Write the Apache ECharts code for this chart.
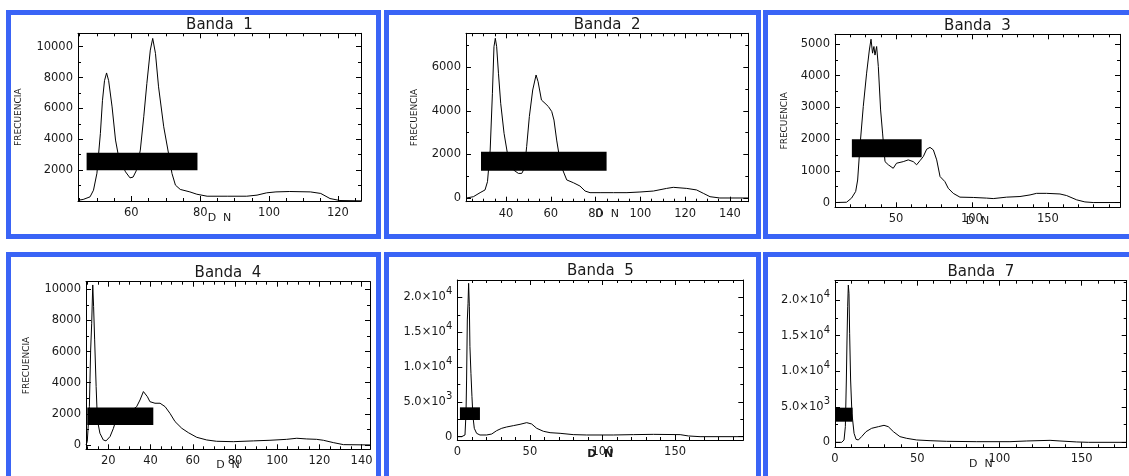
<!DOCTYPE html>
<html>
<head>
<meta charset="utf-8">
<script src="https://cdn.jsdelivr.net/npm/echarts@6/dist/echarts.min.js"></script>
<style>
  html, body { margin: 0; padding: 0; background: #fff; }
  #chart { width: 1129px; height: 476px; }
</style>
</head>
<body>
<div id="chart"></div>
<script>
// histogram values: DN and frequency
const band1DN = [44.5, 46, 48, 49, 50, 51, 51.6, 52.2, 52.8, 53.4, 54.4, 55.4, 56.3, 58.3, 59.6, 60.5, 61.4, 62.6, 63.6, 64.5, 65.5, 66.2, 67, 67.9, 69.4, 70.8, 71.8, 72.8, 74.2, 77, 79, 82, 88, 93.5, 96.5, 99.3, 102, 106, 112, 115, 117.7, 120.6, 126.7]
const band1Freq = [50, 100, 270, 700, 1800, 4380, 6500, 7800, 8300, 7800, 6100, 3950, 2860, 1890, 1500, 1550, 1950, 3300, 5460, 7620, 9780, 10540, 9570, 7400, 4810, 3080, 1780, 1030, 750, 590, 440, 310, 310, 310, 380, 530, 590, 615, 590, 490, 160, 30, 10]

const band2DN = [22.4, 25.4, 28.4, 30.6, 31.7, 32.9, 33.9, 34.6, 35.2, 35.8, 36.6, 37.6, 39.1, 40.6, 43.3, 45.5, 47, 48.2, 49.2, 50.4, 51.9, 53.4, 54.3, 55.8, 57.4, 58.9, 60.4, 61.4, 62.6, 63.8, 65.3, 67.1, 70.1, 73, 75.3, 77.5, 82, 88, 94, 99.8, 105.8, 111.7, 114.7, 120.7, 125.1, 128.1, 131.1, 135.5, 148.2]
const band2Freq = [0, 60, 245, 370, 750, 2200, 4810, 6950, 7335, 6950, 5730, 4350, 2970, 2050, 1290, 1130, 1130, 1360, 2360, 3740, 4960, 5650, 5340, 4500, 4350, 4200, 3970, 3580, 2660, 1900, 1290, 830, 700, 550, 320, 245, 245, 245, 245, 275, 320, 440, 490, 440, 370, 215, 60, 0, 0]

const band3DN = [9.9, 17.5, 20.8, 23.5, 24.8, 26.3, 28.5, 30.7, 32.5, 33.6, 34.6, 35.5, 36.2, 37.3, 38.4, 39.9, 41.2, 42.8, 45, 48.2, 50.4, 54.8, 58.1, 61.4, 63.6, 65.8, 68, 70.2, 72.4, 74.6, 76.8, 79, 82.2, 84.4, 87.7, 92.1, 100.9, 109.6, 114, 122.8, 131.6, 138.2, 142.5, 149.1, 157.9, 162.3, 168.9, 174.3, 179.8, 197.4]
const band3Freq = [0, 10, 140, 350, 710, 1760, 3030, 4080, 4810, 5150, 4710, 4920, 4650, 4920, 4290, 2920, 2190, 1290, 1190, 1080, 1240, 1290, 1345, 1290, 1190, 1320, 1450, 1680, 1740, 1660, 1345, 820, 660, 450, 290, 170, 160, 140, 125, 170, 190, 240, 290, 290, 270, 220, 85, 20, 0, 0]

const band4DN = [9.4, 10, 11, 11.6, 12.1, 12.6, 13, 13.5, 14.2, 14.8, 16, 17.6, 18.9, 20.8, 22.4, 23.6, 26, 30, 33.4, 35, 36.6, 37.4, 38.5, 39.7, 42.1, 44.5, 46.9, 49.2, 51.6, 54.8, 57.9, 61.9, 66.6, 71.3, 79.2, 88.7, 96.6, 104.5, 109.3, 114, 118.7, 121.9, 126.6, 131.4, 144]
const band4Freq = [0, 210, 2460, 6100, 7820, 10280, 8890, 6750, 3750, 1600, 750, 320, 260, 540, 1070, 1600, 1900, 2100, 2460, 2890, 3430, 3490, 3100, 2780, 2680, 2680, 2460, 2030, 1500, 1070, 790, 490, 320, 235, 210, 260, 300, 360, 430, 385, 360, 300, 150, 20, 0]

const band5DN = [0, 3, 5.3, 6, 6.4, 6.9, 7.4, 7.8, 8.3, 8.7, 9.4, 10.1, 10.8, 11.7, 13.3, 15.6, 20.2, 23.7, 27.1, 30.6, 34, 38.6, 43.2, 47.8, 51.2, 54.7, 59.3, 63.9, 70.8, 79.9, 89.1, 107.5, 121.3, 135.1, 153.5, 159.2, 167.2, 197]
const band5Freq = [0, 0, 240, 3350, 8130, 16750, 19140, 22010, 18660, 12920, 9090, 5740, 2870, 1200, 480, 240, 240, 380, 860, 1200, 1390, 1580, 1770, 2010, 1820, 1200, 770, 570, 480, 290, 240, 240, 290, 330, 290, 100, 0, 0]

const band7DN = [0, 4.1, 5.5, 6.3, 6.9, 7.3, 7.7, 8.1, 8.5, 8.9, 9.5, 10.3, 11.6, 12.8, 14.2, 16.2, 18.9, 22.3, 26.4, 29.8, 32.4, 35.5, 39.5, 43.6, 49.7, 57.8, 67.9, 86.2, 106.4, 116.6, 130.8, 136.8, 147, 154.1, 177.4]
const band7Freq = [0, 0, 330, 2200, 8760, 14380, 19060, 22110, 20940, 15320, 8760, 4070, 1260, 420, 330, 800, 1500, 1970, 2200, 2390, 2200, 1500, 800, 560, 330, 230, 140, 90, 90, 190, 280, 190, 50, 0, 0]

const titles = ['Banda  1', 'Banda  2', 'Banda  3', 'Banda  4', 'Banda  5', 'Banda  7']
const xMin = [44.5, 22.1, 9.9, 9.4, 0, 0]
const xMax = [126.7, 148.2, 197.4, 144, 197, 177.4]
const xStep = [20, 20, 50, 20, 50, 50]
const yMin = [0, -170, -150, -280, -480, -700]
const yMax = [10870, 7565, 5305, 10490, 22490, 22720]
const yStep = [2000, 2000, 1000, 2000, 5000, 5000]

// black boxes covering part of each plot: [x1, x2, y1, y2]
const boxes = [
  [47, 79.2, 2000, 3125],
  [28.8, 84.9, 1255, 2130],
  [21, 66.9, 1430, 1995],
  [10, 41.3, 1285, 2400],
  [1.8, 15.6, 2390, 4210],
  [0.4, 10.7, 2900, 4870],
]

const bands = [
  [band1DN, band1Freq], [band2DN, band2Freq], [band3DN, band3Freq],
  [band4DN, band4Freq], [band5DN, band5Freq], [band7DN, band7Freq],
]

// layout of the six frames: left, top, width, height
const frames = [
  [78, 33.3, 283, 167.7],
  [466, 33.3, 282.3, 168.4],
  [835, 34.3, 285, 173],
  [86, 281.7, 284, 167.6],
  [457.3, 280, 286, 160],
  [835, 280.7, 291.7, 166.6],
]
const yNameGap = [55, 47, 46, 55, 0, 0]
const xNameGap = [12, 7, 8, 10, 9, 11]
const panels = [
  [8.5, 12.5, 370, 224],
  [386.5, 12.5, 372, 224],
  [765.5, 12.5, 400, 224],
  [8.5, 254.5, 370, 260],
  [386.5, 254.5, 372, 260],
  [765.5, 254.5, 400, 260],
]

const font = 'DejaVu Sans'
const ink = '#1a1a1a'

function sciLabel(v) {
  if (v === 0) return '0'
  const e = Math.floor(Math.log10(v) + 1e-9)
  const m = (v / Math.pow(10, e)).toFixed(1)
  return '{m|' + m + '×10}{e|' + e + '}'
}

const grid = []
const xAxis = []
const yAxis = []
const series = []

bands.forEach((b, i) => {
  const f = frames[i]
  grid.push({ left: f[0], top: f[1], width: f[2], height: f[3], outerBoundsMode: 'none' })
  const sci = i >= 4
  const line = { show: true, onZero: false, lineStyle: { color: '#000', width: 1 } }
  const tick = { show: true, inside: true, length: 5, lineStyle: { color: '#000' } }
  const baseX = {
    type: 'value', gridIndex: i, min: xMin[i], max: xMax[i],
    minInterval: xStep[i], maxInterval: xStep[i],
    axisLine: line, axisTick: tick, splitLine: { show: false },
    minorTick: { show: true, splitNumber: xStep[i] === 50 ? 5 : 4, length: 3, lineStyle: { color: '#000' } },
  }
  const baseY = {
    type: 'value', gridIndex: i, min: yMin[i], max: yMax[i],
    minInterval: yStep[i], maxInterval: yStep[i],
    axisLine: line, axisTick: tick, splitLine: { show: false },
    minorTick: { show: true, splitNumber: 2, length: 3, lineStyle: { color: '#000' } },
  }
  xAxis.push(Object.assign({}, baseX, {
    position: 'bottom',
    name: 'D  N', nameLocation: 'middle', nameGap: xNameGap[i], nameMoveOverlap: false,
    nameTextStyle: { fontFamily: font, fontSize: 11, color: ink, fontWeight: i === 4 ? 'bold' : 'normal' },
    axisLabel: {
      margin: 6, fontFamily: font, fontSize: 11.5, color: ink,
      showMinLabel: xMin[i] === 0, showMaxLabel: false,
      formatter: (v) => String(v),
    },
  }))
  xAxis.push(Object.assign({}, baseX, {
    position: 'top',
    name: titles[i], nameLocation: 'middle', nameGap: 1, nameMoveOverlap: false,
    nameTextStyle: { fontFamily: font, fontSize: 15, color: ink },
    axisLabel: { show: false },
  }))
  yAxis.push(Object.assign({}, baseY, {
    position: 'left',
    name: sci ? '' : 'FRECUENCIA', nameLocation: 'middle', nameGap: yNameGap[i], nameMoveOverlap: false,
    nameTextStyle: { fontFamily: font, fontSize: 9, color: ink },
    axisLabel: {
      margin: 5, fontFamily: font, fontSize: 11.5, color: ink,
      showMinLabel: false, showMaxLabel: false,
      formatter: sci ? sciLabel : (v) => String(v),
      rich: {
        m: { fontFamily: font, fontSize: 11.5, color: ink },
        e: { fontFamily: font, fontSize: 10, color: ink, padding: [0, 0, 11, 0] },
      },
    },
  }))
  yAxis.push(Object.assign({}, baseY, {
    position: 'right',
    axisLabel: { show: false },
  }))
  series.push({
    type: 'line',
    xAxisIndex: 2 * i, yAxisIndex: 2 * i,
    data: b[0].map((x, k) => [x, b[1][k]]),
    showSymbol: false, symbol: 'none',
    lineStyle: { color: '#000', width: 1 },
    silent: true, z: 2,
  })
  series.push({
    type: 'custom',
    xAxisIndex: 2 * i, yAxisIndex: 2 * i,
    data: [boxes[i]],
    z: 5, silent: true,
    renderItem: (params, api) => {
      const p1 = api.coord([api.value(0), api.value(3)])
      const p2 = api.coord([api.value(1), api.value(2)])
      return {
        type: 'rect',
        shape: { x: p1[0], y: p1[1], width: p2[0] - p1[0], height: p2[1] - p1[1] },
        style: { fill: '#000' },
      }
    },
  })
})

const chart = echarts.init(document.getElementById('chart'))
chart.setOption({
  animation: false,
  backgroundColor: '#fff',
  grid: grid,
  xAxis: xAxis,
  yAxis: yAxis,
  series: series,
  graphic: panels.map((p) => ({
    type: 'rect', silent: true, z: 100,
    shape: { x: p[0], y: p[1], width: p[2], height: p[3] },
    style: { fill: 'none', stroke: '#3a64f6', lineWidth: 5 },
  })),
})
</script>
</body>
</html>
